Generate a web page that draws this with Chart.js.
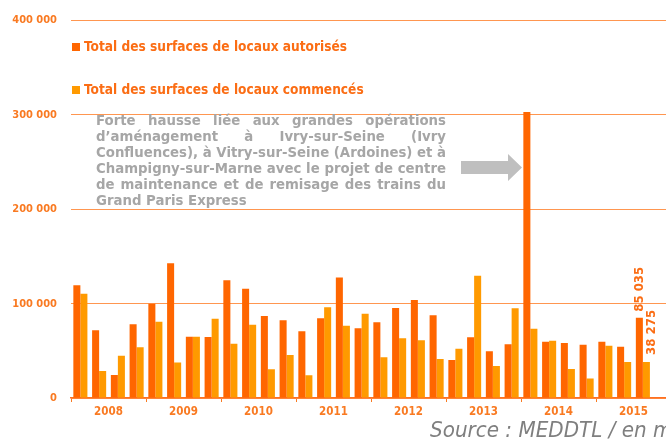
<!DOCTYPE html>
<html lang="fr">
<head>
<meta charset="utf-8">
<title>Surfaces de locaux autorisés et commencés</title>
<script src="https://cdn.jsdelivr.net/npm/chart.js@4.4.1/dist/chart.umd.min.js"></script>
<style>
  html, body { margin: 0; padding: 0; background: #fff; overflow: hidden; }
  #wrap { position: relative; width: 672px; height: 439px; }
</style>
</head>
<body>
<div id="wrap"><canvas id="surfacesChart"></canvas></div>
<script>
// ---- data ----
const years = ['2008', '2009', '2010', '2011', '2012', '2013', '2014', '2015'];
const quarters = ['T1', 'T2', 'T3', 'T4'];
const quarterLabels = years.flatMap(y => quarters.map(q => q + ' ' + y));

const autorises = [
    119400, 71700, 24400, 78100,
    100000, 142800, 65000, 64700,
    124700, 115900, 86900, 82300,
    70700, 84500, 127600, 73900,
    80200, 95400, 103900, 87600,
    40300, 64300, 49500, 56900,
    303000, 59700, 58300, 56500,
    59700, 54400, 85035, null
];
const commences = [
    110600, 28600, 44900, 53700,
    80900, 37500, 65000, 84100,
    57600, 77700, 30400, 45600,
    24000, 96100, 76700, 89400,
    43100, 63300, 61100, 41300,
    52300, 129700, 33900, 95100,
    73500, 60800, 30700, 20800,
    55500, 38200, 38275, null
];
const yTicks = [0, 100000, 200000, 300000, 400000];

const seriesNames = [
    'Total des surfaces de locaux autorisés',
    'Total des surfaces de locaux commencés'
];
const noteLines = [
    'Forte hausse liée aux grandes opérations',
    'd\u2019aménagement à Ivry-sur-Seine (Ivry',
    'Confluences), à Vitry-sur-Seine (Ardoines) et à',
    'Champigny-sur-Marne avec le projet de centre',
    'de maintenance et de remisage des trains du',
    'Grand Paris Express'
];
const sourceText = 'Source : MEDDTL / en m²';

// ---- styles ----
const DARK = '#ff6600';
const LIGHT = '#ff9a00';
const TEXT_ORANGE = '#fb6d14';
const TICK_ORANGE = '#f97a22';
const GRID = '#ff9650';
const FONT = '"DejaVu Sans Condensed", "DejaVu Sans", sans-serif';
const NOTE_FONT = '"DejaVu Sans", sans-serif';

const fmt = v => String(v).replace(/\B(?=(\d{3})+(?!\d))/g, ' ');

// draws text squeezed/stretched horizontally to a given width
function fitText(ctx, text, x, y, width, refText) {
    const w = ctx.measureText(refText || text).width;
    const sx = width / w;
    ctx.save();
    ctx.translate(x, y);
    ctx.scale(sx, 1);
    ctx.fillText(text, 0, 0);
    ctx.restore();
}

function drawJustified(ctx, lines, x, y, width, lineHeight) {
    const space = ctx.measureText(' ').width;
    let sx = 1;
    lines.forEach(line => {
        sx = Math.min(sx, width / ctx.measureText(line).width);
    });
    lines.forEach((line, i) => {
        const words = line.split(' ');
        const wordsW = words.reduce((s, w) => s + ctx.measureText(w).width * sx, 0);
        const last = i === lines.length - 1;
        const gap = last ? space * sx : (width - wordsW) / (words.length - 1);
        let cx = x;
        words.forEach(w => {
            ctx.save();
            ctx.translate(cx, y + i * lineHeight);
            ctx.scale(sx, 1);
            ctx.fillText(w, 0, 0);
            ctx.restore();
            cx += ctx.measureText(w).width * sx + gap;
        });
    });
}

const overlayPlugin = {
    id: 'overlay',
    afterDatasetsDraw(chart) {
        const ctx = chart.ctx;
        ctx.save();

        // value labels on the last quarter
        const lastIdx = autorises.reduce((acc, v, i) => (v !== null ? i : acc), 0);
        const shifts = [0, 5];
        const gaps = [6, 7];
        ctx.fillStyle = TEXT_ORANGE;
        ctx.font = 'bold 12.5px ' + FONT;
        ctx.textAlign = 'left';
        ctx.textBaseline = 'middle';
        chart.data.datasets.forEach((ds, d) => {
            const bar = chart.getDatasetMeta(d).data[lastIdx];
            ctx.save();
            ctx.translate(bar.x + shifts[d], bar.y - gaps[d]);
            ctx.rotate(-Math.PI / 2);
            fitText(ctx, fmt(ds.data[lastIdx]), 0, 0, 45, '85 035');
            ctx.restore();
        });

        // legend
        ctx.textBaseline = 'alphabetic';
        ctx.font = 'bold 14.5px ' + FONT;
        const rows = [51, 94];
        const legendScale = 263 / ctx.measureText(seriesNames[0]).width;
        chart.data.datasets.forEach((ds, d) => {
            ctx.fillStyle = ds.backgroundColor;
            ctx.fillRect(72, rows[d] - 8, 8, 8);
            ctx.fillStyle = TEXT_ORANGE;
            fitText(ctx, ds.label, 84, rows[d], ctx.measureText(ds.label).width * legendScale);
        });

        // note with arrow
        ctx.fillStyle = '#a6a6a6';
        ctx.font = 'bold 13.3px ' + NOTE_FONT;
        drawJustified(ctx, noteLines, 96, 124.5, 350, 16);

        ctx.fillStyle = '#bfbfbf';
        ctx.beginPath();
        ctx.moveTo(461, 161);
        ctx.lineTo(508, 161);
        ctx.lineTo(508, 154);
        ctx.lineTo(522, 167.5);
        ctx.lineTo(508, 181);
        ctx.lineTo(508, 174);
        ctx.lineTo(461, 174);
        ctx.closePath();
        ctx.fill();

        // source
        ctx.fillStyle = '#7f7f7f';
        ctx.font = 'italic 21.5px ' + FONT;
        fitText(ctx, sourceText, 430, 437, 223, 'Source : MEDDTL / en ');

        ctx.restore();
    }
};

const ctx = document.getElementById('surfacesChart');
new Chart(ctx, {
    type: 'bar',
    data: {
        labels: quarterLabels,
        datasets: [{
            label: seriesNames[0],
            data: autorises,
            backgroundColor: DARK,
            borderWidth: 0,
            categoryPercentage: 0.75,
            barPercentage: 1.0
        }, {
            label: seriesNames[1],
            data: commences,
            backgroundColor: LIGHT,
            borderWidth: 0,
            categoryPercentage: 0.75,
            barPercentage: 1.0
        }]
    },
    options: {
        responsive: true,
        maintainAspectRatio: false,
        animation: false,
        layout: { padding: { top: 20, right: 1, left: 0, bottom: 0 } },
        plugins: {
            legend: { display: false },
            tooltip: { enabled: false }
        },
        scales: {
            x: {
                type: 'category',
                display: false,
                offset: true
            },
            xYear: {
                type: 'category',
                position: 'bottom',
                labels: years,
                offset: true,
                grid: {
                    offset: true,
                    drawOnChartArea: false,
                    tickLength: 4,
                    color: TICK_ORANGE
                },
                border: { color: '#ff7020', width: 1.5 },
                ticks: {
                    color: TICK_ORANGE,
                    font: { family: FONT, size: 11.5, weight: 'bold' },
                    padding: 3,
                    maxRotation: 0
                },
                afterFit: scale => { scale.height = 41; }
            },
            y: {
                min: 0,
                max: 400000,
                grid: { color: GRID, drawTicks: false },
                border: { display: false },
                ticks: {
                    color: TICK_ORANGE,
                    font: { family: FONT, size: 11, weight: 'bold' },
                    padding: 14,
                    callback: v => fmt(v)
                },
                afterBuildTicks: scale => { scale.ticks = yTicks.map(v => ({ value: v })); },
                afterFit: scale => { scale.width = 71; }
            }
        }
    },
    plugins: [overlayPlugin]
});
</script>
</body>
</html>
